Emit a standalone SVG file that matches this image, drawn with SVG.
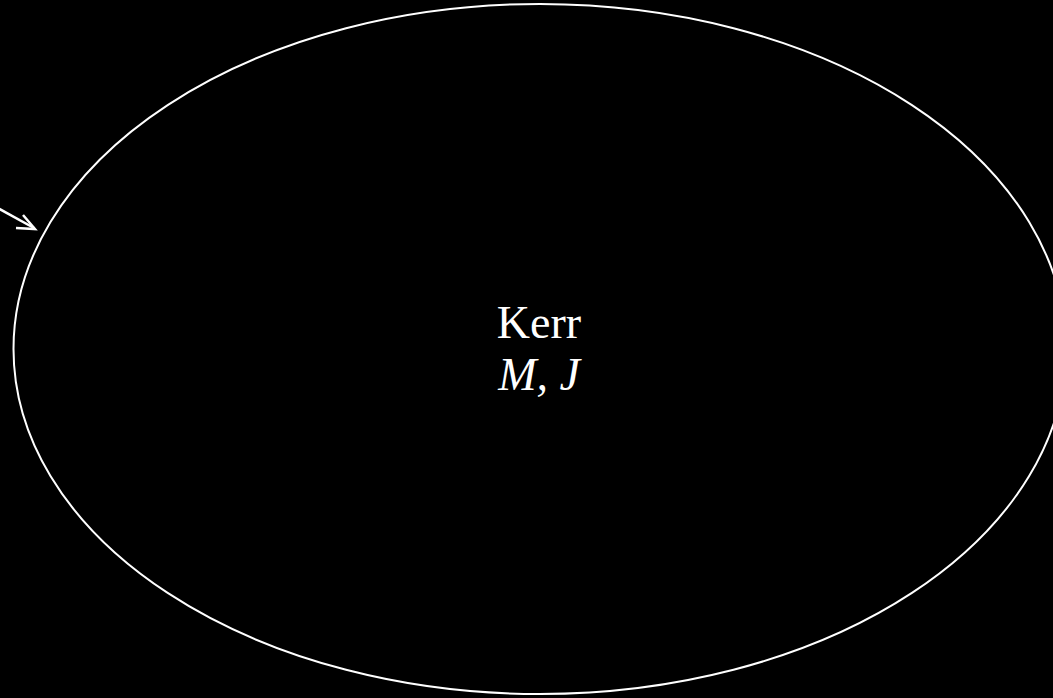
<svg xmlns="http://www.w3.org/2000/svg" width="1053" height="698" viewBox="0 0 1053 698">
<style>
.edge{fill:none;stroke:#fff;stroke-width:2}
.lbl{fill:#fff;font-family:"Liberation Serif","DejaVu Serif",serif;font-size:46px;text-anchor:middle}
.conn{fill:none;stroke:#fff;stroke-width:2.5}
</style>
<rect width="1053" height="698" fill="#000"/>
<g id="kerr">
<ellipse cx="539.8" cy="349" rx="526.3" ry="345" class="edge"/>
<text x="539" y="338" class="lbl">Kerr</text>
<text x="539" y="390" class="lbl" font-style="italic">M, J</text>
</g>
<g id="connectors">
<path d="M-4,207 L34,228" class="conn"/>
<path d="M23,215 L35,229 L16,228" class="conn"/>
</g>
</svg>
